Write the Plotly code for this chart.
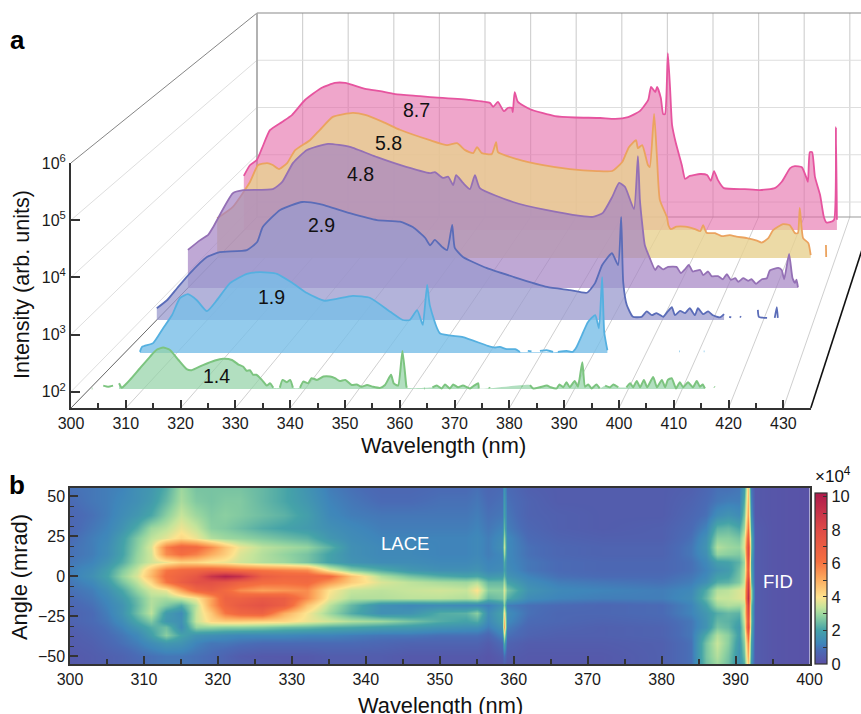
import plotly.graph_objects as go

W_PX, H_PX = 861, 714
FONT = "Liberation Sans"

# ---------- panel a: wavelength (nm) and log10 intensity, None = gap in the trace
pink_wl = [302.1,303.4,304.9,306.0,307.7,310.3,312.4,315.2,318.8,321.6,323.8,328.1,331.3,334.5,339.8,342.0,350.5,354.8,355.5,356.5,357.8,358.7,359.5,359.7,360.1,360.8,363.4,368.7,373.0,378.4,381.6,384.4,386.9,388.7,389.3,390.2,390.6,391.4,391.9,392.3,392.9,393.4,393.8,394.6,395.9,396.6,397.6,399.8,401.3,402.1,402.8,403.6,404.9,409.4,412.6,415.8,417.3,419.1,420.1,421.6,422.5,422.9,423.3,423.8,424.4,425.5,426.3,426.8,427.6,428.5,428.9,429.1]
pink_lg = [3.11,3.33,3.44,3.68,4.05,4.22,4.36,4.67,4.92,5.02,5.02,4.90,4.85,4.79,4.75,4.73,4.67,4.61,4.53,4.63,4.44,4.51,4.51,4.42,4.83,4.63,4.48,4.34,4.31,4.30,4.28,4.32,4.44,4.67,4.94,4.83,4.94,4.71,4.38,4.38,5.63,4.87,4.16,3.79,3.33,3.05,3.11,3.15,3.13,3.01,3.21,3.03,2.86,2.84,2.82,2.86,2.99,3.27,3.31,3.29,3.09,2.99,3.60,3.60,3.09,2.72,2.27,2.16,2.16,2.21,4.11,2.21]

orange_wl = [301.5,304.8,308.4,310.1,312.0,313.2,314.5,316.2,317.9,321.0,323.1,325.8,330.0,332.6,336.3,339.9,346.2,349.8,351.9,353.6,355.3,356.1,357.1,359.2,360.1,360.5,364.5,370.0,375.6,381.3,384.5,386.6,388.0,389.5,389.9,390.8,392.0,392.4,393.3,393.9,394.5,396.0,396.3,396.8,398.0,399.8,401.9,403.0,403.6,404.3,406.1,407.5,409.2,410.6,412.8,414.9,415.9,417.3,418.3,420.4,421.8,422.9,423.5,423.9,424.6,425.7,426.2,None,429.4,429.45]
orange_lg = [2.80,3.03,3.53,3.87,3.91,3.87,3.79,3.91,4.17,4.37,4.58,4.84,4.92,4.88,4.74,4.58,4.37,4.27,4.31,4.17,4.11,4.23,4.11,4.09,4.33,4.13,3.99,3.87,3.79,3.75,3.75,3.93,4.23,4.37,4.21,4.27,3.87,3.83,4.90,4.03,3.17,2.82,2.66,2.58,2.63,2.63,2.58,2.54,2.66,2.51,2.50,2.44,2.46,2.43,2.40,2.35,2.31,2.40,2.56,2.68,2.66,2.50,2.50,3.01,2.40,2.30,2.06,None,2.26,2.02]

purple_wl = [301.8,304.3,305.9,306.9,310.9,313.0,319.0,320.9,323.1,325.9,330.2,334.6,340.1,344.7,350.8,351.8,353.4,354.5,355.5,356.1,357.5,358.9,359.9,360.9,367.6,374.5,381.2,383.8,385.8,387.7,389.1,390.3,392.1,392.9,393.3,393.9,394.3,395.3,396.4,397.0,398.0,399.0,400.7,401.6,402.4,403.2,404.0,405.5,406.1,407.1,407.8,409.1,410.1,410.9,411.7,412.6,413.2,414.2,415.2,415.9,416.8,418.0,419.0,419.6,421.3,422.0,422.5,423.5,424.2,424.7,425.0,425.3]
purple_lg = [2.74,2.93,3.03,3.18,3.84,3.90,3.92,4.06,4.43,4.68,4.80,4.74,4.54,4.39,4.23,4.25,4.14,4.16,4.00,4.19,4.04,3.92,4.19,3.94,3.67,3.51,3.40,3.38,3.46,3.77,4.04,3.96,3.53,4.56,3.71,3.13,2.83,2.58,2.35,2.43,2.36,2.41,2.41,2.29,2.36,2.45,2.32,2.35,2.25,2.32,2.23,2.23,2.17,2.27,2.16,2.19,2.12,2.19,2.14,2.17,2.08,2.17,2.19,2.34,2.39,2.35,2.17,2.66,2.19,2.10,2.16,2.01]

indigo_wl = [302.3,304.3,306.3,308.8,312.1,314.6,319.9,321.9,323.0,326.4,330.7,334.2,340.0,345.3,349.8,352.3,354.7,355.7,356.6,358.0,359.0,360.0,360.5,362.1,366.8,371.9,378.5,383.0,386.3,387.9,389.3,391.2,392.4,393.0,393.4,394.1,395.3,397.0,398.0,399.0,399.9,401.2,402.1,402.9,403.5,404.5,405.5,406.4,407.4,408.0,409.0,410.0,410.9,412.3,413.1,None,414.1,414.5,None,416.2,416.4,None,419.7,419.9,421.5,None,423.0,423.4,423.6]
indigo_lg = [2.22,2.37,2.60,2.88,3.18,3.27,3.31,3.46,3.74,4.06,4.21,4.17,4.00,3.87,3.84,3.74,3.54,3.40,3.50,3.37,3.31,3.78,3.35,3.18,2.97,2.81,2.62,2.56,2.51,2.69,3.03,3.25,3.03,3.93,2.71,2.28,2.06,2.06,2.16,2.09,2.13,2.06,2.16,2.24,2.09,2.17,2.13,2.22,2.09,2.22,2.11,2.16,2.09,2.05,2.11,None,2.06,2.05,None,2.07,2.05,None,2.19,2.06,2.04,None,2.04,2.24,2.04]

blue_wl = [305.3,305.7,307.8,309.7,311.4,312.9,314.4,316.1,318.0,319.9,322.4,325.6,328.1,331.3,334.3,337.0,340.4,345.7,349.0,352.8,355.2,356.5,357.9,358.8,359.0,359.8,360.3,362.2,366.6,371.3,372.7,373.6,374.9,376.5,377.4,None,378.9,379.6,None,381.2,382.5,383.7,None,384.6,386.3,387.4,388.1,389.2,390.3,391.7,392.4,393.0,393.4,394.0,None,407.6,407.7,None,412.3,412.4]
blue_lg = [2.02,2.11,2.18,2.45,2.69,3.00,3.07,2.96,2.76,2.96,3.27,3.44,3.47,3.44,3.27,3.09,2.95,3.04,3.00,2.75,2.60,2.60,2.78,2.55,2.51,3.24,2.87,2.36,2.29,2.13,2.10,2.11,2.07,2.07,2.02,None,2.04,2.03,None,2.04,2.05,2.02,None,2.02,2.04,2.02,2.10,2.33,2.56,2.69,2.45,3.38,2.38,2.05,None,2.03,2.03,None,2.03,2.03]

green_wl = [302.9,303.0,None,305.0,305.9,306.8,None,307.9,308.4,309.0,309.9,311.7,313.6,314.8,316.0,317.2,318.8,320.3,321.2,323.3,325.5,327.0,328.6,329.8,330.7,331.3,331.9,332.5,333.1,334.1,335.0,335.6,336.2,None,337.4,337.9,338.7,339.3,339.8,None,341.1,341.7,342.6,343.2,344.2,345.4,346.6,347.5,348.4,349.4,350.6,351.5,352.4,353.4,354.5,355.8,356.7,357.8,358.3,359.1,359.9,360.6,360.7,None,363.9,364.0,None,365.4,366.2,367.1,367.7,368.6,369.2,370.1,371.0,372.3,373.2,373.8,373.9,None,375.8,375.9,None,381.8,381.9,None,383.3,383.9,385.1,386.4,387.1,388.2,388.7,389.4,390.0,390.6,391.5,392.1,392.9,393.4,394.0,394.6,395.5,396.1,None,397.1,398.0,398.6,399.5,None,401.0,401.7,402.2,402.9,403.5,404.2,404.8,405.9,406.6,407.5,408.1,408.6,409.3,410.1,410.8,411.4,412.3,413.2,413.9,414.5,415.0,415.4,None,417.1,417.2]
green_lg = [2.01,2.01,None,2.06,2.04,2.06,None,2.10,2.02,2.07,2.16,2.36,2.57,2.69,2.73,2.69,2.51,2.35,2.33,2.42,2.50,2.53,2.51,2.43,2.39,2.32,2.33,2.25,2.25,2.16,2.06,2.10,2.02,None,2.02,2.16,2.12,2.16,2.02,None,2.02,2.13,2.10,2.19,2.16,2.22,2.22,2.19,2.14,2.16,2.07,2.08,2.04,2.07,2.04,2.02,2.07,2.25,2.10,2.06,2.67,2.06,2.02,None,2.01,2.01,None,2.03,2.06,2.01,2.08,2.01,2.08,2.03,2.06,2.01,2.07,2.10,2.01,None,2.03,2.01,None,2.05,2.04,None,2.07,2.01,2.03,2.06,2.03,2.01,2.08,2.03,2.12,2.03,2.14,2.04,2.47,2.04,2.08,2.01,2.08,2.01,None,2.06,2.03,2.08,2.03,None,2.03,2.10,2.03,2.14,2.03,2.16,2.03,2.21,2.03,2.16,2.03,2.16,2.19,2.01,2.12,2.03,2.12,2.03,2.14,2.04,2.08,2.01,None,2.04,2.03]

x_ticks_a = list(range(300, 440, 10))
y_exps_a = [2, 3, 4, 5, 6]

# ---------- panel b: z in units of 1e4
map_wl = [300,303,305,307,309,311,313,315,317,319,321,323,326,329,332,335,338,342,346,350,353.5,355,356.5,358.35,358.7,359.05,362,366,372,380,384,386,387.5,389,390.5,391.2,391.7,392.15,392.6,395,400]
map_angle = [-55,-50,-42,-37,-32,-28,-23,-18,-14,-9,-4,0,4,9,14,18,24,30,38,47,55]
row_m55 = [.3,.4,.5,.6,.7,.9,1.0,1.0,.9,.8,.6,.5,.4,.3,.3,.4,.4,.4,.3,.3,.3,.3,.2,.3,.5,.3,.3,.3,.3,.5,.9,2.5,3.0,2.5,1.5,2.2,4.5,1.6,.4,.2,.1]
row_m50 = [.3,.4,.5,.6,.8,.9,1.0,1.0,.9,.8,.6,.4,.3,.3,.3,.4,.4,.4,.3,.3,.3,.3,.2,.4,.9,.4,.3,.3,.3,.5,.9,2.6,3.2,2.6,1.6,2.5,5.0,1.8,.4,.2,.1]
row_m42 = [.4,.5,.7,.9,1.1,1.4,1.7,1.6,1.2,1.0,1.0,.9,.8,.8,.8,.8,.8,.7,.6,.6,.6,.6,.4,.8,2.2,.6,.4,.4,.4,.5,.9,2.6,3.4,2.8,1.7,2.8,5.6,2.0,.4,.2,.1]
row_m37 = [.4,.6,.8,1.0,1.3,1.9,2.8,2.0,1.6,1.5,1.4,1.3,1.3,1.3,1.2,1.2,1.1,1.0,1.0,.9,.9,.9,.7,1.2,3.5,.9,.6,.5,.5,.6,1.0,2.2,3.2,2.8,1.9,3.0,6.5,2.2,.4,.2,.1]
row_m32 = [.5,.7,.9,1.2,1.7,2.2,2.5,1.4,2.9,2.9,2.8,2.8,2.7,2.5,2.4,2.2,2.1,1.9,1.8,1.6,1.5,1.5,1.1,1.6,5.0,1.1,.7,.6,.5,.6,1.0,1.6,2.6,2.4,1.8,3.2,8.0,2.4,.4,.2,.1]
row_m28 = [.6,.8,1.0,1.4,2.1,2.7,1.7,1.5,3.4,4.2,4.4,4.4,4.3,4.2,3.8,3.5,3.2,3.0,2.6,2.2,2.0,2.2,1.3,1.9,4.6,1.3,.8,.7,.6,.7,1.0,1.6,2.4,2.3,2.0,3.4,7.5,2.6,.4,.2,.1]
row_m23 = [.6,.8,1.1,1.6,2.5,3.3,1.8,1.4,3.4,4.5,6.0,6.6,6.8,5.0,3.9,3.0,2.2,1.5,1.6,2.2,2.3,2.8,1.4,2.0,4.0,1.4,.9,.7,.7,.8,1.2,1.7,2.2,2.4,2.3,3.6,8.0,2.5,.4,.2,.1]
row_m18 = [.7,.9,1.2,1.6,2.4,3.2,2.7,2.2,3.3,5.2,6.6,7.2,7.6,7.0,4.6,3.3,2.4,1.5,1.3,1.4,1.3,1.3,1.1,1.6,2.8,1.1,.9,.8,.7,.8,1.2,2.0,3.0,3.2,3.1,3.4,8.5,2.6,.4,.2,.1]
row_m14 = [.8,1.0,1.3,1.8,2.5,3.2,3.1,3.4,3.9,5.2,6.8,6.8,7.2,7.0,5.6,3.8,3.2,3.2,3.3,3.3,3.2,3.4,2.4,2.6,3.2,2.2,1.4,1.2,1.1,1.1,1.4,2.4,3.4,3.4,3.6,3.8,9.5,3.0,.4,.2,.1]
row_m9 = [.9,1.1,1.5,2.1,2.9,3.5,3.8,5.2,6.6,7.0,6.4,5.6,5.2,5.4,5.6,4.0,3.4,3.3,3.4,3.5,3.4,4.0,2.8,2.8,3.6,2.6,1.6,1.3,1.2,1.1,1.3,2.2,3.2,3.3,3.6,3.8,9.0,3.0,.4,.2,.1]
row_m4 = [1.0,1.3,1.8,2.6,3.3,4.2,6.0,7.0,7.7,7.7,7.4,6.8,6.3,6.2,6.4,5.4,4.4,3.6,3.3,3.1,3.0,3.2,2.4,2.4,3.0,2.0,1.4,1.1,1.0,.9,1.1,1.5,2.2,2.3,2.7,3.4,8.5,2.5,.4,.2,.1]
row_0 = [1.1,1.5,2.0,2.9,3.6,4.8,6.3,6.8,7.4,9.0,9.8,9.2,7.0,6.6,6.6,6.4,4.6,3.2,2.6,2.2,2.0,2.1,1.7,1.8,2.4,1.6,1.2,.9,.8,.8,1.0,1.3,1.9,2.0,2.6,3.3,7.5,2.3,.4,.2,.1]
row_p4 = [1.1,1.4,1.9,2.7,3.4,4.6,6.0,6.4,6.6,6.8,6.6,6.3,6.0,5.8,5.6,3.8,2.8,2.2,1.7,1.5,1.5,1.6,1.3,1.4,2.0,1.4,1.0,.8,.7,.7,.9,1.2,1.6,1.8,2.5,3.2,7.0,2.2,.4,.2,.1]
row_p9 = [1.0,1.2,1.6,2.2,3.0,3.5,3.8,4.3,4.2,3.9,3.8,3.5,3.2,3.0,2.6,2.0,1.6,1.4,1.4,1.3,1.3,1.4,1.2,1.3,2.2,1.3,1.0,.8,.7,.7,.9,1.3,1.9,2.0,2.3,3.0,7.5,2.1,.4,.2,.1]
row_p14 = [.9,1.1,1.4,2.0,2.9,3.5,5.6,6.2,5.8,5.0,4.4,3.6,3.2,2.9,2.6,2.0,1.5,1.3,1.3,1.2,1.2,1.3,1.1,1.3,3.0,1.3,.9,.7,.6,.6,1.0,1.5,2.9,2.8,2.7,3.3,8.0,2.3,.4,.2,.1]
row_p18 = [.9,1.1,1.4,2.0,2.8,3.6,5.8,6.6,6.4,5.6,4.6,3.8,3.3,3.1,2.9,2.3,1.5,1.3,1.3,1.2,1.2,1.3,1.1,1.5,3.4,1.3,.9,.7,.6,.6,1.0,1.6,3.2,3.0,2.9,3.6,8.0,2.5,.4,.2,.1]
row_p24 = [.8,1.1,1.3,1.9,2.7,3.3,3.7,4.2,3.8,3.2,3.0,2.9,2.7,2.5,2.3,1.7,1.4,1.2,1.2,1.2,1.2,1.3,1.1,1.4,3.0,1.3,.8,.6,.5,.5,.9,1.5,2.8,2.8,2.6,3.5,7.0,2.4,.4,.2,.1]
row_p30 = [.7,1.0,1.2,1.6,2.2,3.0,3.3,3.8,3.4,2.8,2.7,2.5,2.2,2.0,1.8,1.5,1.3,1.1,1.1,1.1,1.1,1.2,1.0,1.2,2.4,1.1,.7,.5,.4,.5,.8,1.2,2.3,2.4,2.1,3.0,6.0,2.0,.4,.2,.1]
row_p38 = [.7,.9,1.1,1.4,1.7,2.1,2.8,3.4,3.0,2.7,2.8,2.7,2.5,2.3,1.9,1.3,1.1,1.0,1.0,1.0,1.0,1.1,.9,1.0,2.0,1.0,.6,.5,.4,.4,.7,.9,1.4,1.6,1.4,2.6,5.2,1.5,.3,.2,.1]
row_p47 = [.8,1.0,1.1,1.3,1.5,1.8,2.4,3.1,2.7,2.6,2.7,2.7,2.4,2.1,1.7,1.2,1.0,.8,.8,.9,.9,1.0,.8,.9,1.8,.9,.6,.4,.4,.4,.6,.8,1.0,1.1,1.1,2.2,4.8,1.2,.3,.2,.1]
row_p55 = [.9,1.0,1.1,1.2,1.5,1.7,2.2,3.0,2.6,2.6,2.6,2.6,2.4,2.1,1.6,1.1,.9,.7,.7,.8,.8,.9,.7,.8,1.6,.8,.5,.4,.4,.4,.5,.7,.9,.9,1.0,1.8,4.5,1.0,.3,.2,.1]
map_z = [row_m55,row_m50,row_m42,row_m37,row_m32,row_m28,row_m23,row_m18,row_m14,row_m9,row_m4,row_0,row_p4,row_p9,row_p14,row_p18,row_p24,row_p30,row_p38,row_p47,row_p55]

spectral = [[0.0,"#5b4fa5"],[0.08,"#4a6bb5"],[0.12,"#3f86ba"],[0.2,"#45a3a8"],[0.28,"#90d2a0"],[0.33,"#c4e49b"],[0.39,"#fde38e"],[0.5,"#fca85c"],[0.6,"#f56f40"],[0.78,"#df4c47"],[1.0,"#ae1a4c"]]

# series styling: name, wl, lg, line colour, fill colour, geometry, label x/y
series = [
    ("8.7", pink_wl, pink_lg, "#e6549f", "rgba(228,107,168,0.6)", (234, 4.67, 230, 48.7), (416, 110)),
    ("5.8", orange_wl, orange_lg, "#eba35f", "rgba(231,209,144,0.8)", (210, 4.76, 258, 49.7), (388, 143)),
    ("4.8", purple_wl, purple_lg, "#9470b5", "rgba(164,131,195,0.7)", (179, 4.94, 288, 51.5), (360, 174)),
    ("2.9", indigo_wl, indigo_lg, "#5a6cb8", "rgba(153,153,205,0.75)", (145, 5.12, 320, 53.4), (321, 225)),
    ("1.9", blue_wl, blue_lg, "#55b0e0", "rgba(120,190,231,0.8)", (112, 5.27, 353, 55.0), (271, 297)),
    ("1.4", green_wl, green_lg, "#7cc47f", "rgba(145,209,165,0.7)", (76, 5.45, 389, 56.9), (216, 376)),
]

def fx(px):
    return px / W_PX

def fy(py):
    return 1 - py / H_PX

def main_runs(wl, lg, min_points=4):
    """Points of all gap-separated runs long enough to carry an area under them."""
    out_w, out_l, run_w, run_l = [], [], [], []
    for w, v in list(zip(wl, lg)) + [(None, None)]:
        if w is None:
            if len(run_w) >= min_points:
                out_w += run_w
                out_l += run_l
            run_w, run_l = [], []
        else:
            run_w.append(w)
            run_l.append(v)
    return out_w, out_l

fig = go.Figure()
layout = dict(
    width=W_PX, height=H_PX, margin=dict(l=0, r=0, t=0, b=0, autoexpand=False), autosize=False,
    paper_bgcolor="white", plot_bgcolor="rgba(0,0,0,0)", showlegend=False,
    font=dict(family=FONT, size=16, color="#1a1a1a"),
)
annots = []
shapes = []

def note(text, px, py, size=20, color="#111", angle=0, bold=False):
    annots.append(dict(text=f"<b>{text}</b>" if bold else text, x=fx(px), y=fy(py), xref="paper", yref="paper",
                       showarrow=False, font=dict(size=size, color=color, family=FONT), textangle=angle,
                       xanchor="center", yanchor="middle"))

def seg(x0, y0, x1, y1, color, width):
    shapes.append(dict(type="line", xref="paper", yref="paper", x0=fx(x0), y0=fy(y0), x1=fx(x1), y1=fy(y1),
                       line=dict(color=color, width=width), layer="below"))

# pseudo-3D frame: front plane, back plane
FX0, FK, FBOT = 71, 5.48, 408      # front: px of 300 nm, px per nm, floor px
FY2, FM = 391.7, 57.2              # front: px of 10^2, px per decade
BX0, BK, BBOT = 257, 4.56, 217     # back
BY2, BM = 202, 47.25

for w in x_ticks_a:
    fxp = FX0 + FK * (w - 300)
    bxp = BX0 + BK * (w - 300)
    seg(fxp, FBOT, bxp, BBOT, "#cfcfcf", 1)
    if w > 300:
        seg(bxp, BBOT, bxp, 13, "#d2d2d2", 1.2)
for e in y_exps_a:
    bpy = BY2 - BM * (e - 2)
    fpy = FY2 - FM * (e - 2)
    if e < 6:
        seg(BX0, bpy, W_PX, bpy, "#dedede", 1)
        seg(FX0, fpy, BX0, bpy, "#dedede", 1)
seg(FX0, FBOT, BX0, BBOT, "#555555", 0.8)
seg(FX0, FY2 - FM * 4, BX0, BY2 - BM * 4, "#777777", 0.9)
seg(BX0, BY2 - BM * 4, W_PX, BY2 - BM * 4, "#8a8a8a", 1.2)
seg(BX0, BY2 - BM * 4, BX0, BBOT, "#aaaaaa", 1.8)
seg(BX0, BBOT, W_PX, BBOT, "#999999", 1)
xend = FX0 + FK * 135
seg(xend, FBOT, BX0 + BK * 135, BBOT, "#111111", 1.6)

# one pair of axes per spectrum, shrinking toward the back
for i, (label, wl, lg, lc, fc, geom, lab) in enumerate(series, start=1):
    x0, k, base, m = geom
    xname, yname = ("x", "y") if i == 1 else (f"x{i}", f"y{i}")
    xkey, ykey = ("xaxis", "yaxis") if i == 1 else (f"xaxis{i}", f"yaxis{i}")
    pad = 0.06
    bottom_px = base + m * pad
    layout[xkey] = dict(domain=[fx(x0), 1], range=[300, 300 + (W_PX - x0) / k], visible=False, anchor=yname)
    layout[ykey] = dict(domain=[fy(bottom_px), 1], type="log", range=[2 - pad, 2 + base / m], visible=False, anchor=xname)
    pw, pl = main_runs(wl, lg)
    fig.add_trace(go.Scatter(x=[pw[0], pw[-1]], y=[100.0, 100.0], mode="lines", line=dict(width=0),
                             hoverinfo="skip", xaxis=xname, yaxis=yname))
    fig.add_trace(go.Scatter(x=pw, y=[10 ** v for v in pl], mode="lines", fill="tonexty", fillcolor=fc,
                             line=dict(width=0, shape="spline", smoothing=0.5), hoverinfo="skip", xaxis=xname, yaxis=yname))
    ys = [None if v is None else 10 ** v for v in lg]
    fig.add_trace(go.Scatter(x=wl, y=ys, mode="lines", line=dict(color=lc, width=2.0 if label == "1.4" else 1.8, shape="spline", smoothing=0.5),
                             connectgaps=False, hoverinfo="skip", xaxis=xname, yaxis=yname))
    note(label, lab[0], lab[1], size=19.5)

# front axes carrying the visible ticks of panel a
AXC = "#333333"
layout["xaxis7"] = dict(domain=[fx(FX0), fx(FX0 + FK * 135)], range=[300, 435], anchor="y7", tick0=300, dtick=10,
                        ticks="inside", ticklen=8, tickwidth=1.5, tickcolor=AXC, showgrid=False, zeroline=False,
                        showline=True, linecolor=AXC, linewidth=2,
                        minor=dict(dtick=5, tick0=300, ticks="inside", ticklen=5, tickwidth=1.5, tickcolor=AXC, showgrid=False),
                        tickfont=dict(size=16))
layout["yaxis7"] = dict(domain=[fy(FBOT), fy(FY2 - FM * 4)], type="log", range=[2 - (FBOT - FY2) / FM, 6], anchor="x7",
                        tickvals=[10 ** e for e in y_exps_a], ticktext=[f"10<sup>{e}</sup>" for e in y_exps_a],
                        ticks="inside", ticklen=9, tickwidth=1.5, tickcolor=AXC, showgrid=False, zeroline=False,
                        showline=True, linecolor=AXC, linewidth=2, tickfont=dict(size=16))
fig.add_trace(go.Scatter(x=[300], y=[100], mode="markers", marker=dict(opacity=0), hoverinfo="skip", xaxis="x7", yaxis="y7"))

# panel b
layout["xaxis8"] = dict(domain=[fx(70), fx(809.5)], range=[300, 400], anchor="y8", tick0=300, dtick=10,
                        ticks="inside", ticklen=8, tickwidth=1.5, tickcolor=AXC, showgrid=False, zeroline=False,
                        showline=True, mirror=True, linecolor=AXC, linewidth=1.5,
                        minor=dict(dtick=5, tick0=300, ticks="inside", ticklen=5, tickwidth=1.5, tickcolor=AXC, showgrid=False),
                        tickfont=dict(size=16))
layout["yaxis8"] = dict(domain=[fy(664), fy(488)], range=[-55, 55], anchor="x8", tick0=0, dtick=25,
                        ticks="inside", ticklen=8, tickwidth=1.5, tickcolor=AXC, showgrid=False, zeroline=False,
                        showline=True, mirror=True, linecolor=AXC, linewidth=1.5,
                        minor=dict(dtick=6.25, tick0=0, ticks="inside", ticklen=4, tickwidth=1.2, tickcolor=AXC, showgrid=False),
                        tickfont=dict(size=16))
cb_vals = list(range(0, 11))
fig.add_trace(go.Heatmap(x=map_wl, y=map_angle, z=map_z, zmin=0, zmax=10.2, zsmooth="best", colorscale=spectral,
                         hoverinfo="skip", xaxis="x8", yaxis="y8",
                         colorbar=dict(x=fx(815), xanchor="left", xpad=0, ypad=0, y=fy(664), yanchor="bottom",
                                       len=171, lenmode="pixels", thickness=12, thicknessmode="pixels",
                                       tickvals=cb_vals, ticktext=[str(v) if v % 2 == 0 else "" for v in cb_vals],
                                       ticks="inside", ticklen=4, tickcolor=AXC, tickwidth=1.2,
                                       outlinecolor=AXC, outlinewidth=1.2, tickfont=dict(size=16.5, family=FONT))))

note("a", 17, 40, size=26, color="#000", bold=True)
note("b", 17, 485, size=26, color="#000", bold=True)
note("Intensity (arb. units)", 22, 285, size=21.5, angle=-90)
note("Wavelength (nm)", 443, 445, size=21.8)
note("Angle (mrad)", 19, 577, size=21.8, angle=-90)
note("Wavelength (nm)", 440, 705, size=21.8)
note("LACE", 405, 543, size=18.5, color="white")
note("FID", 778, 581, size=18.5, color="white")
note("×10<sup>4</sup>", 833, 475, size=17)

layout["annotations"] = annots
layout["shapes"] = shapes
fig.update_layout(**layout)
fig.write_html("out.html", config={"displayModeBar": False},
               post_script="document.body.style.margin='0';document.body.style.overflow='hidden';")
